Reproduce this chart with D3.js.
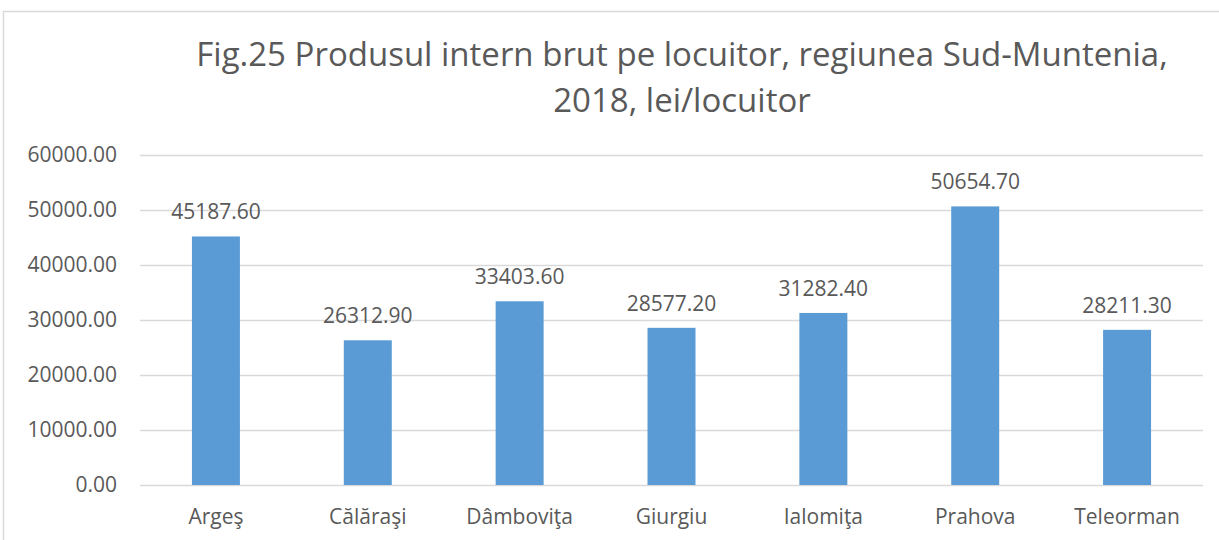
<!DOCTYPE html>
<html>
<head>
<meta charset="utf-8">
<script src="https://cdn.jsdelivr.net/npm/d3@7"></script>
<style>
  body { margin: 0; background: #fff; }
  text { font-family: "Open Sans", "Noto Sans", sans-serif; fill: #595959; }
</style>
</head>
<body>
<div id="chart"></div>
<script>
const counties = ['Argeş', 'Călăraşi', 'Dâmboviţa', 'Giurgiu', 'Ialomiţa', 'Prahova', 'Teleorman'];
const gdpPerCapita = [45187.60, 26312.90, 33403.60, 28577.20, 31282.40, 50654.70, 28211.30];
const yTicks = [0, 10000, 20000, 30000, 40000, 50000, 60000];
const titleLines = ['Fig.25 Produsul intern brut pe locuitor, regiunea Sud-Muntenia,', '2018, lei/locuitor'];

const W = 1219, H = 540;
const margin = { top: 155, right: 16, bottom: 55, left: 140 };
const width = W - margin.left - margin.right,
    height = H - margin.top - margin.bottom;
const fmt = d3.format('.2f');

const svg = d3.select('#chart')
    .append('svg')
    .attr('width', W)
    .attr('height', H);

// chart area border (runs off the right and bottom edge)
svg.append('rect')
    .attr('x', 3.5)
    .attr('y', 11.5)
    .attr('width', W + 10)
    .attr('height', H + 10)
    .attr('fill', 'none')
    .attr('stroke', '#d9d9d9')
    .attr('stroke-width', 1.5);

svg.append('text')
    .attr('x', 682)
    .attr('y', 66)
    .attr('text-anchor', 'middle')
    .style('font-size', '33px')
    .selectAll('tspan')
    .data(titleLines)
    .enter().append('tspan')
    .attr('x', 682)
    .attr('dy', (d, i) => i === 0 ? 0 : 46)
    .text(d => d);

const x = d3.scaleBand()
    .domain(counties)
    .range([0, width])
    .paddingInner(0.684)
    .paddingOuter(0.342);
const y = d3.scaleLinear().domain([0, 60000]).range([height, 0]);

const g = svg.append('g')
    .attr('transform', `translate(${margin.left},${margin.top})`);

const yAxis = d3.axisLeft(y)
    .tickValues(yTicks)
    .tickSize(-width)
    .tickPadding(23)
    .tickFormat(fmt);

g.append('g')
    .attr('class', 'axis axis--y')
    .attr('font-family', null)
    .attr('font-size', null)
    .call(yAxis)
    .call(a => a.select('.domain').remove())
    .call(a => a.selectAll('line').attr('stroke', '#d9d9d9').attr('stroke-width', 1.5))
    .call(a => a.selectAll('text').style('font-size', '21px').attr('fill', '#595959'));

g.append('g').selectAll('rect')
    .data(gdpPerCapita)
    .enter().append('rect')
    .attr('x', (d, i) => x(counties[i]))
    .attr('y', d => y(d))
    .attr('width', x.bandwidth())
    .attr('height', d => height - y(d))
    .attr('fill', '#5b9bd5');

g.append('g').selectAll('text')
    .data(gdpPerCapita)
    .enter().append('text')
    .attr('x', (d, i) => x(counties[i]) + x.bandwidth() / 2)
    .attr('y', d => y(d) - 25)
    .attr('text-anchor', 'middle')
    .attr('dominant-baseline', 'central')
    .style('font-size', '21px')
    .text(d => fmt(d));

const xAxis = d3.axisBottom(x).tickSize(0).tickPadding(31);
g.append('g')
    .attr('class', 'axis axis--x')
    .attr('transform', `translate(0,${height})`)
    .attr('font-family', null)
    .attr('font-size', null)
    .call(xAxis)
    .call(a => a.select('.domain').remove())
    .call(a => a.selectAll('text')
        .attr('dy', null)
        .attr('dominant-baseline', 'central')
        .style('font-size', '21px')
        .attr('fill', '#595959'));
</script>
</body>
</html>
